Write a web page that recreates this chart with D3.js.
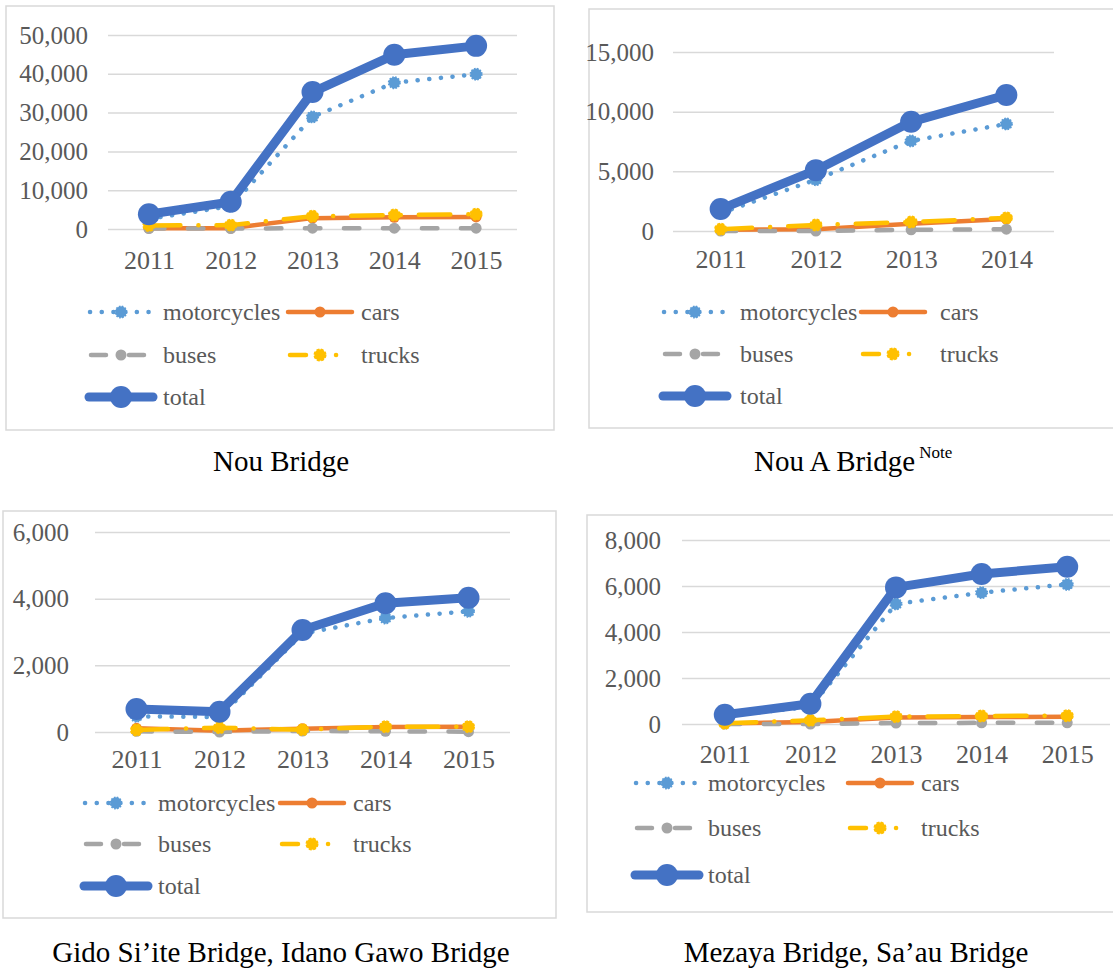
<!DOCTYPE html>
<html>
<head>
<meta charset="utf-8">
<script src="https://cdn.jsdelivr.net/npm/d3@7"></script>
<style>
    body { margin: 0; background: #fff; }
    text { font-family: "Liberation Serif", "Times New Roman", serif; }
</style>
</head>
<body>
<div id="chart"></div>
<script>
// categories
const years5 = ["2011", "2012", "2013", "2014", "2015"]
const years4 = ["2011", "2012", "2013", "2014"]

// Nou Bridge
const nouMotorcycles = [2600, 5900, 28900, 37700, 39900]
const nouCars = [200, 200, 2800, 3000, 3100]
const nouBuses = [100, 100, 200, 200, 200]
const nouTrucks = [900, 1000, 3300, 3600, 3800]
const nouTotal = [3800, 7000, 35300, 44900, 47200]

// Nou A Bridge
const nouAMotorcycles = [1500, 4300, 7550, 8970]
const nouACars = [100, 150, 600, 1000]
const nouABuses = [0, 0, 100, 150]
const nouATrucks = [150, 500, 750, 1100]
const nouATotal = [1840, 5100, 9150, 11400]

// Gido Si'ite Bridge, Idano Gawo Bridge
const gidoMotorcycles = [470, 450, 2950, 3420, 3620]
const gidoCars = [110, 40, 100, 150, 160]
const gidoBuses = [20, 0, 30, 20, 10]
const gidoTrucks = [60, 130, 70, 160, 160]
const gidoTotal = [690, 610, 3060, 3860, 4030]

// Mezaya Bridge, Sa'au Bridge
const mezMotorcycles = [350, 750, 5220, 5710, 6070]
const mezCars = [20, 90, 280, 300, 310]
const mezBuses = [0, 0, 40, 50, 50]
const mezTrucks = [30, 160, 320, 350, 360]
const mezTotal = [400, 880, 5940, 6520, 6840]

const seriesNames = ["motorcycles", "cars", "buses", "trucks", "total"]

const styles = {
    motorcycles: {color: "#5b9bd5", width: 4.5, dash: "0.1,11.6", r: 6.5, markerDash: "1.6,1.4"},
    cars: {color: "#ed7d31", width: 4.5, dash: null, r: 5.5},
    buses: {color: "#a5a5a5", width: 4.5, dash: "15.5,23.5", r: 5.5},
    trucks: {color: "#ffc000", width: 4.5, dash: "31.5,18,0.1,18", r: 6.5, markerDash: "3,1.5"},
    total: {color: "#4472c4", width: 9, dash: null, r: 11},
}

const panels = [
    {
        years: years5, data: [nouMotorcycles, nouCars, nouBuses, nouTrucks, nouTotal],
        frame: [6, 6, 548, 424], plot: {left: 108, right: 517, top: 35, bottom: 229},
        yMax: 50000, yStep: 10000, labelRight: 88, xBase: 269,
        legend: {c1: 121, c2: 320, t1: 163, t2: 361, rows: [312, 355, 397]},
        title: {text: "Nou Bridge", x: 281, y: 471, anchor: "middle"},
    },
    {
        years: years4, data: [nouAMotorcycles, nouACars, nouABuses, nouATrucks, nouATotal],
        frame: [589, 9, 540, 419], plot: {left: 673, right: 1054, top: 52, bottom: 231},
        yMax: 15000, yStep: 5000, labelRight: 654, xBase: 268,
        legend: {c1: 695, c2: 893, t1: 740, t2: 940, rows: [312, 354, 396]},
        title: {text: "Nou A Bridge", x: 754, y: 471, anchor: "start", note: "Note"},
    },
    {
        years: years5, data: [gidoMotorcycles, gidoCars, gidoBuses, gidoTrucks, gidoTotal],
        frame: [3, 511, 553, 407], plot: {left: 95, right: 510, top: 532, bottom: 732},
        yMax: 6000, yStep: 2000, labelRight: 69, xBase: 768,
        legend: {c1: 116, c2: 312, t1: 158, t2: 353, rows: [803, 844, 886]},
        title: {text: "Gido Si’ite Bridge, Idano Gawo Bridge", x: 281, y: 962, anchor: "middle"},
    },
    {
        years: years5, data: [mezMotorcycles, mezCars, mezBuses, mezTrucks, mezTotal],
        frame: [587, 515, 540, 397], plot: {left: 682, right: 1110, top: 540, bottom: 724},
        yMax: 8000, yStep: 2000, labelRight: 661, xBase: 763,
        legend: {c1: 667, c2: 880, t1: 708, t2: 921, rows: [783, 828, 875]},
        title: {text: "Mezaya Bridge, Sa’au Bridge", x: 856, y: 962, anchor: "middle"},
    },
]

const svg = d3.select("#chart")
    .append("svg")
    .attr("width", 1113)
    .attr("height", 971)
    .style("display", "block")

svg.append("rect")
    .attr("width", 1113)
    .attr("height", 971)
    .attr("fill", "#fff")

panels.forEach(p => drawPanel(p))

function drawMarker(g, name, cx, cy) {
    const s = styles[name]
    const m = g.append("circle")
        .attr("cx", cx)
        .attr("cy", cy)
        .attr("r", s.r)
        .attr("fill", s.color)
    if (s.markerDash) {
        m.attr("stroke", s.color)
            .attr("stroke-width", 1.6)
            .attr("stroke-dasharray", s.markerDash)
            .attr("r", s.r - 0.8)
    }
}

function drawPanel(p) {
    const g = svg.append("g")

    g.append("rect")
        .attr("x", p.frame[0])
        .attr("y", p.frame[1])
        .attr("width", p.frame[2])
        .attr("height", p.frame[3])
        .attr("fill", "#fff")
        .attr("stroke", "#d9d9d9")
        .attr("stroke-width", 1.5)

    const xScale = d3.scalePoint()
        .domain(p.years)
        .range([p.plot.left, p.plot.right])
        .padding(0.5)
    const yScale = d3.scaleLinear()
        .domain([0, p.yMax])
        .range([p.plot.bottom, p.plot.top])

    // gridlines + y labels
    const yAxis = g.append("g")
        .attr("transform", "translate(" + p.plot.left + ",0)")
        .call(d3.axisLeft(yScale)
            .tickValues(d3.range(0, p.yMax + 1, p.yStep))
            .tickFormat(d3.format(","))
            .tickSize(-(p.plot.right - p.plot.left))
            .tickPadding(p.plot.left - p.labelRight))
    yAxis.select(".domain").remove()
    yAxis.selectAll(".tick line")
        .attr("stroke", "#d9d9d9")
        .attr("stroke-width", 1.5)
    yAxis.selectAll(".tick text")
        .attr("fill", "#595959")
        .style("font-size", "25px")
        .style("font-family", "'Liberation Serif', 'Times New Roman', serif")

    // x labels
    const xAxis = g.append("g")
        .attr("transform", "translate(0," + p.plot.bottom + ")")
        .call(d3.axisBottom(xScale).tickSize(0))
    xAxis.select(".domain").remove()
    xAxis.selectAll(".tick text")
        .attr("y", p.xBase - p.plot.bottom)
        .attr("dy", null)
        .attr("fill", "#595959")
        .style("font-size", "26px")
        .style("font-family", "'Liberation Serif', 'Times New Roman', serif")

    // series
    seriesNames.forEach((name, i) => {
        const s = styles[name]
        const values = p.data[i]
        const line = d3.line()
            .x((d, j) => xScale(p.years[j]))
            .y(d => yScale(d))
        const path = g.append("path")
            .attr("d", line(values))
            .attr("fill", "none")
            .attr("stroke", s.color)
            .attr("stroke-width", s.width)
            .attr("stroke-linecap", "round")
            .attr("stroke-linejoin", "round")
        if (s.dash) path.attr("stroke-dasharray", s.dash)
        values.forEach((v, j) => drawMarker(g, name, xScale(p.years[j]), yScale(v)))
    })

    // legend
    const L = p.legend
    const slots = [
        {c: L.c1, t: L.t1, y: L.rows[0]},
        {c: L.c2, t: L.t2, y: L.rows[0]},
        {c: L.c1, t: L.t1, y: L.rows[1]},
        {c: L.c2, t: L.t2, y: L.rows[1]},
        {c: L.c1, t: L.t1, y: L.rows[2]},
    ]
    seriesNames.forEach((name, i) => {
        const s = styles[name]
        const slot = slots[i]
        const ln = g.append("line")
            .attr("x1", slot.c - 32)
            .attr("x2", slot.c + 32)
            .attr("y1", slot.y)
            .attr("y2", slot.y)
            .attr("stroke", s.color)
            .attr("stroke-width", s.width)
            .attr("stroke-linecap", "round")
        if (s.dash) ln.attr("stroke-dasharray", s.dash)
        if (name === "motorcycles") ln.attr("stroke-dashoffset", -1)
        if (name === "buses") ln.attr("stroke-dasharray", "15,23").attr("stroke-dashoffset", -2)
        if (name === "trucks") ln.attr("stroke-dasharray", "16,30,0.1,30").attr("stroke-dashoffset", -2)
        drawMarker(g, name, slot.c, slot.y)
        g.append("text")
            .attr("x", slot.t)
            .attr("y", slot.y)
            .attr("dy", "0.33em")
            .attr("fill", "#595959")
            .style("font-size", "24px")
            .text(name)
    })

    // title
    const title = g.append("text")
        .attr("x", p.title.x)
        .attr("y", p.title.y)
        .attr("text-anchor", p.title.anchor)
        .attr("fill", "#000")
        .style("font-size", "29px")
        .text(p.title.text)
    if (p.title.note) {
        title.append("tspan")
            .attr("dx", 4)
            .attr("dy", -13)
            .style("font-size", "17px")
            .text(p.title.note)
    }
}
</script>
</body>
</html>
